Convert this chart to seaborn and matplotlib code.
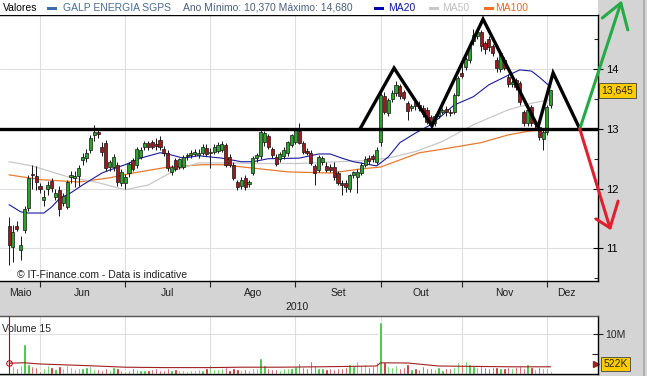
import numpy as np
import pandas as pd
import seaborn as sns
import matplotlib
matplotlib.use('Agg')
import matplotlib.pyplot as plt
import matplotlib.transforms as mtransforms
from matplotlib.patches import Rectangle
from matplotlib.lines import Line2D

sns.set_style('white')
plt.rcParams['font.family'] = ['Liberation Sans', 'DejaVu Sans']

# GALP ENERGIA SGPS - cotações diárias (20 Mai a 2 Dez 2010)
opens = [11.38, 11.02, 11.38, 10.97, 11.31, 11.68, 12.24, 12.21, 12.04, 11.81,
         12.00, 12.13, 11.86, 11.98, 11.76, 11.69, 12.20, 12.18, 12.21, 12.48,
         12.51, 12.65, 12.90, 12.95, 12.70, 12.77, 12.36, 12.36, 12.40, 12.10,
         12.10, 12.26, 12.48, 12.40, 12.53, 12.70, 12.77, 12.78, 12.75, 12.82,
         12.66, 12.60, 12.28, 12.48, 12.36, 12.36, 12.55, 12.56, 12.58, 12.57,
         12.60, 12.68, 12.60, 12.62, 12.63, 12.65, 12.73, 12.53, 12.40, 12.11,
         12.04, 12.18, 12.08, 12.26, 12.51, 12.55, 12.78, 12.88, 12.66, 12.53,
         12.50, 12.55, 12.60, 12.73, 12.78, 12.97, 12.77, 12.63, 12.60, 12.38,
         12.31, 12.45, 12.38, 12.36, 12.36, 12.26, 12.10, 12.10, 12.00, 12.22,
         12.20, 12.26, 12.40, 12.52, 12.54, 12.45, 12.78, 13.55, 13.27, 13.50,
         13.60, 13.72, 13.62, 13.43, 13.35, 13.45, 13.40, 13.35, 13.32, 13.20,
         13.10, 13.22, 13.28, 13.33, 13.28, 13.28, 13.57, 13.93, 14.03, 14.15,
         14.47, 14.56, 14.62, 14.44, 14.50, 14.39, 14.16, 14.00, 14.16, 13.87,
         13.75, 13.82, 13.77, 13.28, 13.10, 13.37, 13.08, 13.03, 12.83, 12.95,
         13.40]
highs = [11.53, 11.39, 11.45, 11.20, 11.70, 12.22, 12.40, 12.38, 12.10, 11.98,
         12.12, 12.18, 12.00, 12.05, 11.92, 12.15, 12.30, 12.30, 12.40, 12.60,
         12.66, 12.90, 13.07, 13.00, 12.78, 12.82, 12.48, 12.58, 12.45, 12.32,
         12.25, 12.45, 12.52, 12.70, 12.70, 12.80, 12.80, 12.82, 12.85, 12.88,
         12.72, 12.65, 12.40, 12.52, 12.52, 12.56, 12.60, 12.64, 12.66, 12.66,
         12.74, 12.74, 12.68, 12.74, 12.78, 12.80, 12.76, 12.58, 12.45, 12.15,
         12.20, 12.22, 12.15, 12.55, 12.60, 12.98, 12.96, 12.92, 12.70, 12.58,
         12.62, 12.70, 12.80, 12.92, 13.02, 13.10, 12.80, 12.68, 12.64, 12.42,
         12.56, 12.55, 12.45, 12.42, 12.44, 12.30, 12.14, 12.15, 12.25, 12.30,
         12.32, 12.44, 12.55, 12.56, 12.58, 12.70, 13.60, 13.62, 13.52, 13.65,
         13.80, 13.76, 13.66, 13.47, 13.42, 13.50, 13.46, 13.40, 13.36, 13.24,
         13.25, 13.32, 13.35, 13.38, 13.34, 13.60, 13.88, 14.10, 14.20, 14.45,
         14.68, 14.66, 14.66, 14.48, 14.55, 14.43, 14.20, 14.30, 14.20, 13.92,
         13.82, 13.85, 13.80, 13.32, 13.36, 13.40, 13.14, 13.06, 12.98, 13.40,
         13.66]
lows = [10.72, 10.77, 11.28, 10.80, 11.25, 11.62, 12.00, 11.98, 11.92, 11.70,
        11.90, 11.95, 11.80, 11.54, 11.70, 11.65, 12.10, 12.02, 12.05, 12.40,
        12.45, 12.60, 12.80, 12.85, 12.55, 12.30, 12.30, 12.30, 12.05, 12.05,
        12.00, 12.20, 12.30, 12.35, 12.50, 12.65, 12.65, 12.66, 12.65, 12.65,
        12.55, 12.30, 12.22, 12.30, 12.32, 12.33, 12.48, 12.52, 12.55, 12.52,
        12.56, 12.55, 12.35, 12.58, 12.60, 12.62, 12.36, 12.36, 12.14, 11.98,
        12.00, 11.98, 12.02, 12.22, 12.45, 12.50, 12.72, 12.66, 12.52, 12.38,
        12.45, 12.50, 12.55, 12.70, 12.75, 12.74, 12.58, 12.56, 12.40, 12.06,
        12.28, 12.40, 12.28, 12.28, 12.15, 12.06, 11.90, 11.95, 11.95, 12.18,
        11.93, 12.22, 12.36, 12.42, 12.45, 12.42, 12.72, 13.25, 13.22, 13.45,
        13.55, 13.50, 13.48, 13.15, 13.30, 13.32, 13.30, 13.20, 13.08, 13.02,
        13.05, 13.18, 13.25, 13.22, 13.22, 13.25, 13.55, 13.85, 13.98, 14.10,
        14.40, 14.50, 14.30, 14.25, 14.30, 14.22, 13.95, 13.95, 13.98, 13.70,
        13.70, 13.65, 13.40, 13.05, 13.05, 13.05, 13.02, 12.82, 12.65, 12.90,
        13.35]
closes = [11.06, 11.27, 11.33, 11.06, 11.66, 12.18, 12.22, 12.11, 11.99, 11.86,
          12.06, 12.01, 11.93, 11.66, 11.88, 12.11, 12.23, 12.21, 12.35, 12.53,
          12.60, 12.85, 12.95, 12.92, 12.62, 12.35, 12.45, 12.53, 12.11, 12.28,
          12.20, 12.41, 12.33, 12.66, 12.65, 12.77, 12.70, 12.70, 12.72, 12.70,
          12.60, 12.35, 12.36, 12.33, 12.50, 12.53, 12.56, 12.60, 12.62, 12.60,
          12.70, 12.58, 12.62, 12.70, 12.73, 12.75, 12.40, 12.40, 12.18, 12.03,
          12.15, 12.03, 12.11, 12.51, 12.56, 12.95, 12.93, 12.70, 12.56, 12.41,
          12.58, 12.65, 12.78, 12.90, 12.98, 12.77, 12.62, 12.60, 12.43, 12.26,
          12.53, 12.51, 12.31, 12.31, 12.20, 12.10, 12.06, 12.02, 12.22, 12.27,
          12.28, 12.40, 12.50, 12.46, 12.49, 12.65, 13.57, 13.28, 13.49, 13.60,
          13.74, 13.55, 13.52, 13.30, 13.38, 13.38, 13.35, 13.25, 13.12, 13.07,
          13.22, 13.29, 13.32, 13.28, 13.26, 13.57, 13.85, 13.88, 14.17, 14.38,
          14.58, 14.62, 14.39, 14.34, 14.38, 14.27, 14.02, 14.27, 14.02, 13.75,
          13.79, 13.70, 13.45, 13.10, 13.32, 13.10, 13.10, 12.87, 12.95, 13.37,
          13.645]
# volume em milhões
volumes = [2.0, 2.0, 1.5, 2.2, 7.5, 2.5, 2.0, 1.8, 0.8, 1.4,
           2.2, 1.8, 1.2, 2.0, 1.5, 2.2, 1.7, 1.3, 1.6, 1.5,
           1.8, 2.0, 1.2, 1.3, 1.0, 1.4, 1.0, 1.8, 1.5, 1.0,
           0.8, 1.1, 1.6, 1.2, 1.0, 1.1, 0.9, 1.2, 1.4, 1.0,
           0.9, 1.5, 1.1, 1.2, 1.0, 0.9, 0.8, 1.1, 1.0, 1.3,
           0.9, 1.4, 2.5, 1.3, 1.2, 1.5, 1.8, 1.1, 1.4, 1.2,
           1.0, 1.3, 1.1, 1.6, 1.5, 4.0, 2.2, 1.4, 1.3, 1.2,
           1.0, 1.4, 1.6, 1.5, 2.0, 2.8, 1.8, 1.5, 3.2, 2.0,
           1.6, 1.4, 1.3, 1.5, 1.2, 1.6, 1.4, 1.8, 2.6, 2.0,
           3.2, 2.2, 2.4, 1.8, 2.0, 3.0, 13.0, 3.0, 2.0, 1.8,
           2.2, 1.5, 1.8, 2.6, 1.2, 1.6, 1.3, 2.0, 1.4, 1.6,
           1.2, 1.8, 1.0, 1.4, 1.6, 1.8, 3.0, 2.4, 3.3, 2.6,
           2.0, 1.8, 2.0, 1.7, 1.6, 1.8, 1.7, 1.6, 1.5, 1.7,
           1.6, 1.8, 2.0, 1.4, 2.6, 1.8, 1.3, 1.7, 1.5, 1.6,
           0.8]

# médias móveis (posição do dia, valor)
ma20_x = [0, 3, 5, 9, 11, 13, 16, 19, 22, 24, 26, 30, 34, 39, 41, 45, 49, 55, 60, 63,
          67, 75, 80, 83, 86, 89, 95, 98, 101, 105, 109, 112, 115, 120, 124, 129, 132, 135, 137, 140]
ma20_v = [11.73, 11.61, 11.59, 11.59, 11.69, 11.83, 11.93, 12.06, 12.18, 12.26,
          12.31, 12.40, 12.51, 12.60, 12.58, 12.51, 12.55, 12.51, 12.45, 12.45,
          12.50, 12.51, 12.58, 12.58, 12.51, 12.45, 12.38, 12.53, 12.77, 12.93,
          13.07, 13.23, 13.40, 13.54, 13.74, 13.90, 13.99, 13.97, 13.87, 13.70]
ma50_x = [0, 6, 15, 23, 30, 36, 43, 49, 56, 65, 75, 85, 92, 98, 105, 112, 120, 129, 135, 140]
ma50_v = [12.45, 12.38, 12.20, 12.10, 11.98, 12.06, 12.31, 12.43, 12.43, 12.42,
          12.42, 12.45, 12.47, 12.51, 12.62, 12.79, 13.07, 13.32, 13.43, 13.49]
ma100_x = [0, 8, 18, 26, 32, 41, 50, 55, 62, 72, 83, 91, 96, 106, 111, 122, 129, 135, 140]
ma100_v = [12.23, 12.15, 12.11, 12.18, 12.26, 12.36, 12.40, 12.40, 12.35, 12.28,
           12.26, 12.33, 12.36, 12.60, 12.65, 12.77, 12.90, 12.97, 12.98]
vma_x = [0, 4, 8, 14, 20, 30, 40, 52, 60, 70, 80, 88, 95, 96, 103, 111, 120, 130, 140]
vma_v = [2.7, 2.8, 2.5, 2.3, 2.1, 1.7, 1.6, 1.6, 1.7, 1.7, 1.8, 1.9, 2.0, 2.8, 2.75, 2.0, 1.9, 1.8, 1.8]

# figura ombro-cabeça-ombro desenhada à mão
hs_x = [90.7, 99.5, 109.3, 122.5, 136.7, 140.6, 147.5]
hs_y = [13.0, 14.02, 13.05, 14.84, 13.03, 13.94, 13.0]
neck = 13.0
up_arrow_x = [147.5, 158.1]
up_arrow_y = [13.0, 15.11]
up_head_x = [153.3, 158.1, 159.9]
up_head_y = [14.86, 15.11, 14.66]
dn_arrow_x = [147.5, 155.3]
dn_arrow_y = [13.0, 11.34]
dn_head_x = [151.7, 155.3, 157.4]
dn_head_y = [11.49, 11.34, 11.79]

months = ['Maio', 'Jun', 'Jul', 'Ago', 'Set', 'Out', 'Nov', 'Dez']
last_price = '13,645'
last_vol = '522K'

dates = pd.bdate_range('2010-05-20', '2010-12-02')
df = pd.DataFrame({'date': dates, 'open': opens, 'high': highs, 'low': lows,
                   'close': closes, 'volume': volumes})
df['x'] = np.arange(len(df))
df['up'] = df['close'] >= df['open']
month_starts = df.loc[df['date'].dt.month.diff() != 0, 'x'].tolist()[1:]

W, H = 647, 376
BG = '#d4d4d4'
GREEN = '#2aa52a'
RED = '#9e1a1a'
XLIM = (-2.34, 152.2)

fig = plt.figure(figsize=(W / 100, H / 100), dpi=100, facecolor=BG)
fig.patches.append(Rectangle((0, 1 - 15 / H), 598 / W, 15 / H, transform=fig.transFigure,
                             facecolor='white', edgecolor='none', zorder=0))
fig.lines.append(Line2D([644 / W, 644 / W], [0, 1], transform=fig.transFigure,
                        color='#a8a8a8', lw=1.2))

ax = fig.add_axes([0, 1 - 281 / H, 598 / W, 266 / H])
axv = fig.add_axes([0, 1 - 374 / H, 598 / W, 58 / H])

# --- painel de preços ---
ax.set_facecolor('white')
ax.set_xlim(*XLIM)
ax.set_ylim(10.45, 14.91)
ax.set_xticks(month_starts)
ax.set_xticklabels([])
ax.set_yticks([11, 12, 13, 14])
ax.set_yticks([10.5, 11.5, 12.5, 13.5, 14.5], minor=True)
ax.yaxis.tick_right()
ax.grid(True, which='major', color='#dedede', lw=0.8, zorder=0)
ax.tick_params(axis='y', which='major', direction='inout', length=7, width=0.8,
               labelsize=8, pad=2, colors='black')
ax.tick_params(axis='y', which='minor', direction='in', length=3, width=0.8)
ax.tick_params(axis='x', direction='out', length=4, width=0.8, bottom=True)
for s in ['top', 'right', 'bottom']:
    ax.spines[s].set_color('black')
    ax.spines[s].set_linewidth(1.0)
ax.spines['left'].set_visible(False)

sns.lineplot(x=ma100_x, y=ma100_v, ax=ax, color='#e87a30', lw=0.9, zorder=2)
sns.lineplot(x=ma50_x, y=ma50_v, ax=ax, color='#c8c8c8', lw=0.9, zorder=2)
sns.lineplot(x=ma20_x, y=ma20_v, ax=ax, color='#1a1aa0', lw=0.8, zorder=2)

body_lo = df[['open', 'close']].min(axis=1)
body_h = (df['close'] - df['open']).abs().clip(lower=0.015)
ax.vlines(df['x'], df['low'], df['high'], color='#151515', lw=0.7, zorder=3)
ax.bar(df['x'], body_h, bottom=body_lo, width=0.8,
       color=np.where(df['up'], GREEN, RED), edgecolor='#151515', linewidth=0.5, zorder=4)

ax.axhline(neck, color='black', lw=2.4, zorder=5)
ax.plot(hs_x, hs_y, color='black', lw=2.4, zorder=5, solid_joinstyle='miter')
ax.plot(up_arrow_x, up_arrow_y, color='#25aa45', lw=2.2, clip_on=False, zorder=6)
ax.plot(up_head_x, up_head_y, color='#25aa45', lw=2.2, clip_on=False, zorder=6)
ax.plot(dn_arrow_x, dn_arrow_y, color='#e0202e', lw=2.2, clip_on=False, zorder=6)
ax.plot(dn_head_x, dn_head_y, color='#e0202e', lw=2.2, clip_on=False, zorder=6)

ax.text(2, 10.55, '\u00a9 IT-Finance.com - Data is indicative', fontsize=7.5,
        color='#202020', va='center', ha='left')

trans_r = mtransforms.blended_transform_factory(ax.transAxes, ax.transData)
ax.text(1.006, closes[-1], last_price, transform=trans_r, fontsize=7.5, va='center',
        ha='left', bbox=dict(boxstyle='square,pad=0.25', fc='#ffcc00', ec='#444444', lw=0.6))

trans_m = mtransforms.blended_transform_factory(ax.transData, ax.transAxes)
edges = [XLIM[0]] + month_starts + [149]
for i, name in enumerate(months):
    ax.text((edges[i] + edges[i + 1]) / 2, -0.045, name, transform=trans_m,
            fontsize=7.5, ha='center', va='center', color='#202020')
ax.text(74.5, -0.098, '2010', transform=trans_m, fontsize=7.5, ha='center',
        va='center', color='#202020')

# título / legenda
def ftxt(xpx, s, color):
    fig.text(xpx / W, 1 - 8 / H, s, fontsize=7.5, color=color, va='center', ha='left')

def fpatch(xpx, color):
    fig.patches.append(Rectangle((xpx / W, 1 - 10 / H), 10 / W, 3.5 / H,
                                 transform=fig.transFigure, facecolor=color, edgecolor='none'))

ftxt(3, 'Valores', 'black')
fpatch(47, '#3d6ea8')
ftxt(63, 'GALP ENERGIA SGPS', '#4a6c96')
ftxt(183, 'Ano Mínimo: 10,370 Máximo: 14,680', '#4a5f80')
fpatch(374, '#0000b0')
ftxt(388, 'MA20', '#0a1aa0')
fpatch(429, '#c8c8c8')
ftxt(442, 'MA50', '#c0c0c0')
fpatch(484, '#f07020')
ftxt(495, 'MA100', '#e86a20')

# --- painel de volume ---
axv.set_facecolor('white')
axv.set_xlim(*XLIM)
axv.set_ylim(0, 14.5)
axv.set_xticks(month_starts)
axv.set_xticklabels([])
axv.set_yticks([10])
axv.set_yticklabels(['10M'])
axv.set_yticks([5], minor=True)
axv.yaxis.tick_right()
axv.grid(True, which='major', color='#dedede', lw=0.8, zorder=0)
axv.tick_params(axis='y', which='major', direction='inout', length=7, width=0.8,
                labelsize=7.5, pad=2)
axv.tick_params(axis='y', which='minor', direction='in', length=4, width=0.8)
axv.tick_params(axis='x', length=0)
for s in ['top', 'right', 'bottom']:
    axv.spines[s].set_color('black')
    axv.spines[s].set_linewidth(1.0)
axv.spines['top'].set_color('#555555')
axv.spines['left'].set_visible(False)

vcolors = np.where(df['up'], '#22c022', '#c01818').tolist()
vcolors[0] = '#44ccee'
axv.bar(df['x'], df['volume'], width=0.6, color=vcolors, zorder=2)
sns.lineplot(x=vma_x, y=vma_v, ax=axv, color='#a02020', lw=0.8, zorder=3)
axv.axvline(0, color='#c00000', lw=0.8, zorder=4)
axv.plot([0], [vma_v[0]], marker='o', ms=4, mfc='none', mec='#c00000', mew=0.7, zorder=5)
axv.text(0.004, 0.78, 'Volume 15', transform=axv.transAxes, fontsize=7.5, va='center')
trans_v = mtransforms.blended_transform_factory(axv.transAxes, axv.transData)
axv.plot([0.997], [2.6], marker='>', ms=5, color='#a02020', transform=trans_v, clip_on=False)
axv.text(1.009, 2.6, last_vol, transform=trans_v, fontsize=7.5, va='center', ha='left',
         bbox=dict(boxstyle='square,pad=0.2', fc='#ffcc00', ec='#444444', lw=0.6))

fig.savefig('out.png', dpi=100, facecolor=BG)
